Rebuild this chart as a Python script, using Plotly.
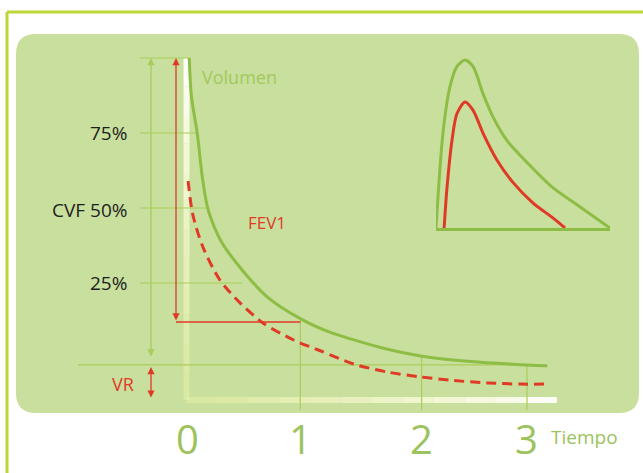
import plotly.graph_objects as go

W, H = 643, 473

# ---------------- data ----------------
# Volume-time curve (espirograma): time in s, volume in % of CVF
t_volumen = [0.02, 0.04, 0.09, 0.14, 0.19, 0.30, 0.44, 0.71, 1.02, 1.26, 1.46, 1.76, 2.06, 2.5, 3.0, 3.18]
v_volumen = [100, 87, 75, 59, 49, 39, 31.5, 20.3, 12.7, 8.6, 6.2, 3.0, 0.7, -1.2, -2.3, -2.6]

# Obstructive pattern (red dashed)
t_obstr = [0.01, 0.05, 0.14, 0.29, 0.47, 0.67, 0.94, 1.17, 1.47, 1.77, 2.06, 2.35, 2.65, 2.94, 3.18]
v_obstr = [59, 48, 37, 26, 18.3, 11.7, 6, 2.5, -2, -4.7, -6.3, -7.5, -8.3, -8.7, -8.7]

# Inset flow-volume loops (volume, flow)
fv_norm_x = [0, 0.24, 0.48, 0.72, 1.0, 1.28, 1.62, 1.97, 2.45, 3.14, 4.03, 4.97, 6.0]
fv_norm_y = [0, 5.65, 8.4, 9.6, 10, 9.6, 8.0, 6.6, 5.2, 3.9, 2.4, 1.25, 0]
fv_obst_x = [0.28, 0.38, 0.55, 0.72, 1.0, 1.28, 1.62, 2.1, 2.66, 3.34, 4.03, 4.45]
fv_obst_y = [0, 2.4, 5.2, 6.8, 7.5, 7.0, 5.65, 4.05, 2.7, 1.5, 0.6, 0]

# Tick labels
time_ticks = [0, 1, 2.07, 3]
time_labels = ["0", "1", "2", "3"]
pct_ticks = [75, 50, 25]
pct_labels = ["75%", "CVF 50%", "25%"]

fev1_level = 12          # volume remaining at 1 s
vr_top, vr_bottom = -3, -13.7
cvf_top = 100

# ---------------- styling ----------------
GREEN = "#8dbd45"
LIGHT = "#a9cd58"
LABEL_GREEN = "#9cc35e"
RED = "#e03a26"
PANEL = "#c9df9d"
BORDER = "#bad737"
FONT = "Open Sans"

# pixel <-> data mapping for main axes (domain = whole figure)
X0PX, XUNIT = 187.0, 113.33
Y0PX, YUNIT = 358.0, 3.0
x_range = [(0 - X0PX) / XUNIT, (W - X0PX) / XUNIT]
y_range = [(Y0PX - H) / YUNIT, (Y0PX - 0) / YUNIT]


def px2x(px):
    return (px - X0PX) / XUNIT


def py2y(py):
    return (Y0PX - py) / YUNIT


fig = go.Figure()

# main curves
fig.add_trace(go.Scatter(x=t_volumen, y=v_volumen, mode="lines",
                         line=dict(color=GREEN, width=3, shape="spline", smoothing=1.0),
                         hoverinfo="skip", showlegend=False))
fig.add_trace(go.Scatter(x=t_obstr, y=v_obstr, mode="lines",
                         line=dict(color=RED, width=3, shape="spline", smoothing=0.8, dash="10px,6px"),
                         hoverinfo="skip", showlegend=False))

# inset
fig.add_trace(go.Scatter(x=fv_norm_x, y=fv_norm_y, mode="lines", xaxis="x2", yaxis="y2",
                         line=dict(color=GREEN, width=3, shape="spline", smoothing=0.8),
                         hoverinfo="skip", showlegend=False))
fig.add_trace(go.Scatter(x=fv_obst_x, y=fv_obst_y, mode="lines", xaxis="x2", yaxis="y2",
                         line=dict(color=RED, width=3, shape="spline", smoothing=0.8),
                         hoverinfo="skip", showlegend=False))

shapes = []

# outer border lines (paper coords)
shapes.append(dict(type="line", xref="paper", yref="paper", x0=7 / W, x1=1.0,
                   y0=1 - 12 / H, y1=1 - 12 / H, line=dict(color=BORDER, width=3), layer="below"))
shapes.append(dict(type="line", xref="paper", yref="paper", x0=7 / W, x1=7 / W,
                   y0=1 - 12 / H, y1=0, line=dict(color=BORDER, width=3), layer="below"))

# rounded panel
L, R, T, B, r = 16, 639, 34, 413, 20


def P(px, py):
    return f"{px / W:.5f},{1 - py / H:.5f}"


path = (f"M {P(L + r, T)} L {P(R - r, T)} Q {P(R, T)} {P(R, T + r)} "
        f"L {P(R, B - r)} Q {P(R, B)} {P(R - r, B)} L {P(L + r, B)} "
        f"Q {P(L, B)} {P(L, B - r)} L {P(L, T + r)} Q {P(L, T)} {P(L + r, T)} Z")
shapes.append(dict(type="path", xref="paper", yref="paper", path=path,
                   fillcolor=PANEL, line=dict(width=0), layer="below"))

# white gradient axis bands
ax_x = px2x(186.5)
band_y_bottom = py2y(400)
n = 12
for i in range(n):
    f = i / (n - 1)
    # vertical band: white at top, pale yellow at bottom
    ya = cvf_top + (band_y_bottom - cvf_top) * i / n
    yb = cvf_top + (band_y_bottom - cvf_top) * (i + 1) / n
    rr, gg, bb = 255 - int(12 * f), 255 - int(8 * f), 250 - int(80 * f)
    a = 0.95 - 0.55 * f
    shapes.append(dict(type="line", x0=ax_x, x1=ax_x, y0=ya, y1=yb,
                       line=dict(color=f"rgba({rr},{gg},{bb},{a:.2f})", width=6), layer="below"))
    # horizontal band: pale yellow left, white right
    xa = ax_x + (px2x(557) - ax_x) * i / n
    xb = ax_x + (px2x(557) - ax_x) * (i + 1) / n
    g = 1 - f
    rr, gg, bb = 255 - int(12 * g), 255 - int(8 * g), 250 - int(80 * g)
    a = 0.4 + 0.55 * f
    shapes.append(dict(type="line", x0=xa, x1=xb, y0=band_y_bottom, y1=band_y_bottom,
                       line=dict(color=f"rgba({rr},{gg},{bb},{a:.2f})", width=6), layer="below"))

# light green guide lines
guide_left = px2x(140)
for lvl, right in zip([cvf_top] + pct_ticks, [0.03, 0.09, 0.19, 0.49]):
    shapes.append(dict(type="line", x0=guide_left, x1=right, y0=lvl, y1=lvl,
                       line=dict(color=LIGHT, width=1.2), layer="below"))
# VR level line
shapes.append(dict(type="line", x0=px2x(78), x1=3.0, y0=-2.3, y1=-2.3,
                   line=dict(color=LIGHT, width=1.2), layer="below"))
# vertical guides at 1, 2, 3 s
for tx, top in zip(time_ticks[1:], [12.7, 0.5, -2.3]):
    shapes.append(dict(type="line", x0=tx, x1=tx, y0=top, y1=py2y(410),
                       line=dict(color=LIGHT, width=1.2), layer="below"))
# FEV1 horizontal red line
red_x = px2x(176)
shapes.append(dict(type="line", x0=red_x, x1=1.0, y0=fev1_level, y1=fev1_level,
                   line=dict(color=RED, width=1.3), layer="below"))

annotations = []
green_x = px2x(151)
# double arrows
for xx, y_a, y_b, col in [(green_x, cvf_top, 0, LIGHT),
                          (red_x, cvf_top, fev1_level, RED),
                          (green_x, vr_top, vr_bottom, RED)]:
    annotations.append(dict(x=xx, y=y_a, ax=xx, ay=y_b, xref="x", yref="y", axref="x", ayref="y",
                            text="", showarrow=True, arrowhead=2, arrowsize=1.1, arrowwidth=1.3,
                            arrowcolor=col, arrowside="end+start", startarrowhead=2, startarrowsize=1.1))

# texts
annotations.append(dict(x=px2x(200), y=py2y(77), text="Volumen", showarrow=False, xanchor="left",
                        font=dict(family=FONT, size=18, color="#a3c95e")))
annotations.append(dict(x=px2x(246), y=py2y(222), text="FEV1", showarrow=False, xanchor="left",
                        font=dict(family=FONT, size=17, color=RED)))
for lvl, lab, py in zip(pct_ticks, pct_labels, [133, 210, 283]):
    annotations.append(dict(x=px2x(129), y=py2y(py), text=lab, showarrow=False, xanchor="right",
                            font=dict(family=FONT, size=19, color="#1e1e1e")))
annotations.append(dict(x=px2x(136), y=py2y(384), text="VR", showarrow=False, xanchor="right",
                        font=dict(family=FONT, size=18, color=RED)))
for tx, lab in zip(time_ticks, time_labels):
    annotations.append(dict(x=tx, y=py2y(438), text=lab, showarrow=False,
                            font=dict(family=FONT, size=40, color=LABEL_GREEN)))
annotations.append(dict(x=px2x(549), y=py2y(437), text="Tiempo", showarrow=False, xanchor="left",
                        font=dict(family=FONT, size=19, color=LABEL_GREEN)))

fig.update_layout(
    width=W, height=H,
    margin=dict(l=0, r=0, t=0, b=0),
    paper_bgcolor="white", plot_bgcolor="rgba(0,0,0,0)",
    shapes=shapes, annotations=annotations,
    xaxis=dict(range=x_range, domain=[0, 1], visible=False, fixedrange=True),
    yaxis=dict(range=y_range, domain=[0, 1], visible=False, fixedrange=True),
    xaxis2=dict(range=[0, 6], domain=[436 / W, 610 / W], anchor="y2", showline=True,
                linecolor=GREEN, linewidth=2.5, showgrid=False, zeroline=False,
                showticklabels=False, ticks="", fixedrange=True),
    yaxis2=dict(range=[0, (228 - 50) / 16.8], domain=[1 - 228 / H, 1 - 50 / H], anchor="x2",
                showline=False, showgrid=False, zeroline=False, showticklabels=False,
                ticks="", fixedrange=True),
    showlegend=False,
)

fig.write_html("out.html", config={"displayModeBar": False},
               post_script="document.body.style.margin='0px';document.body.style.padding='0px';")
